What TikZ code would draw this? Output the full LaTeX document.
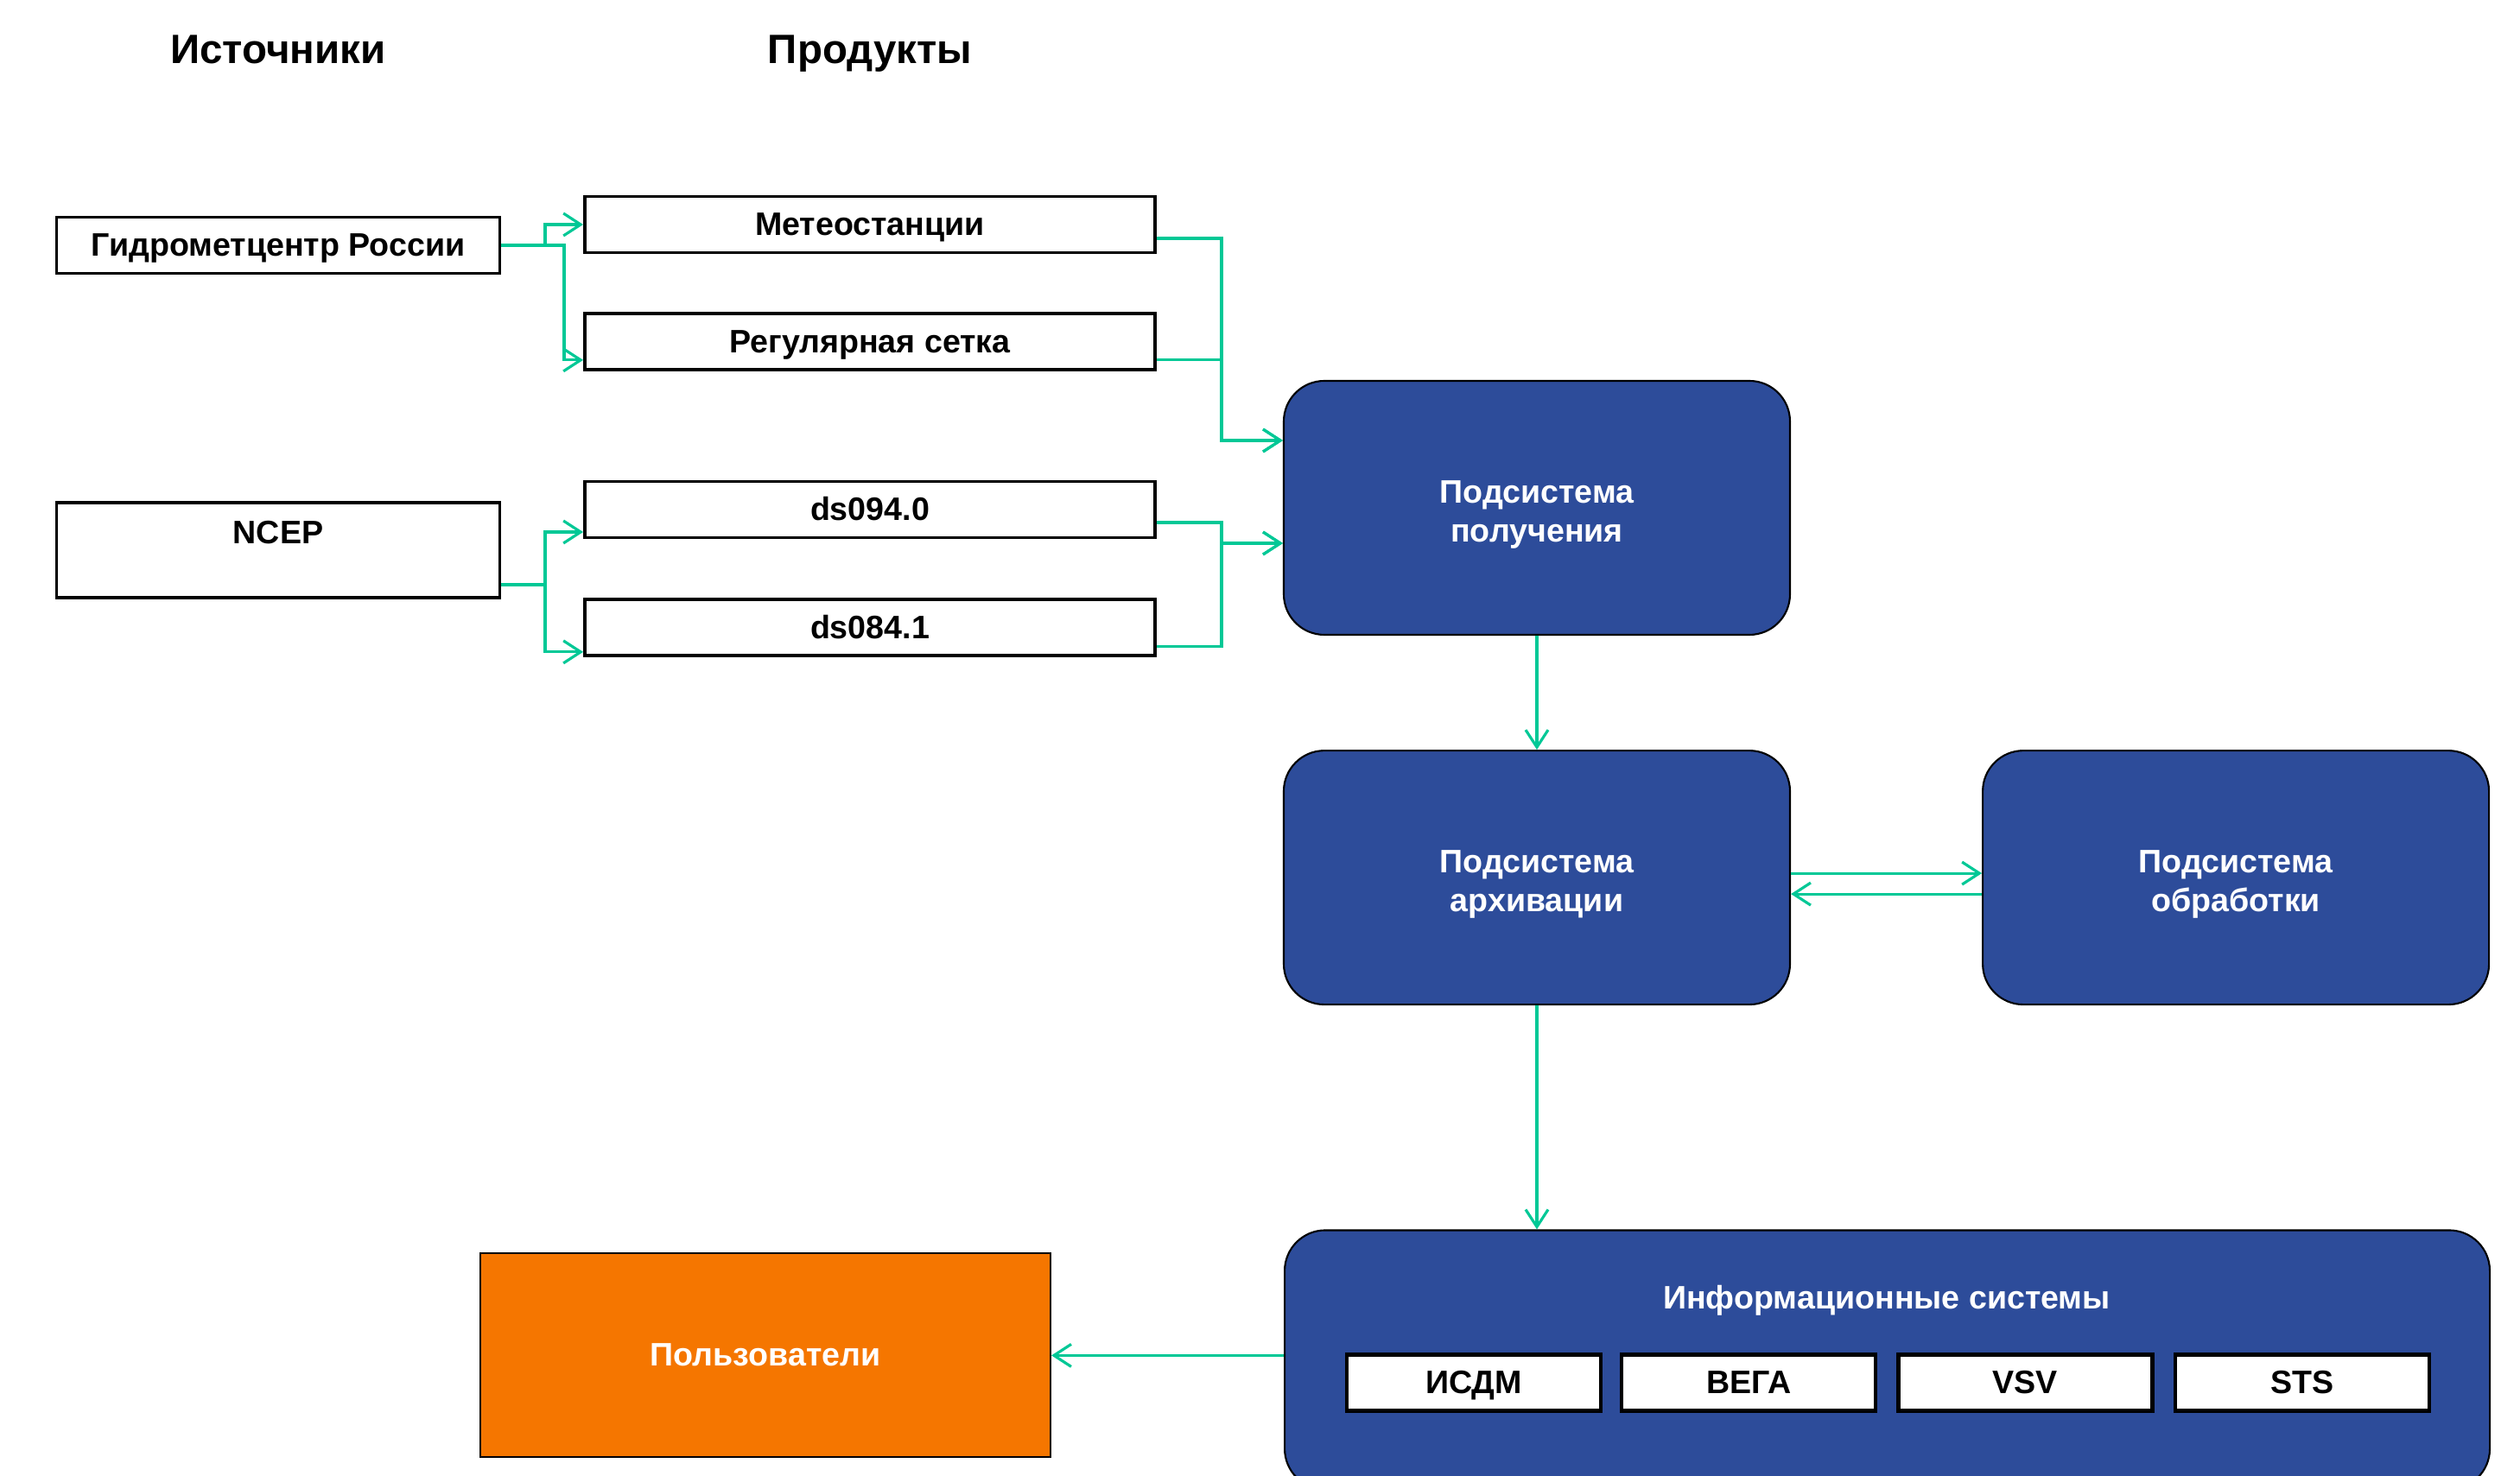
\documentclass[tikz,border=0pt]{standalone}
\usepackage{fontspec}
\setmainfont{Liberation Sans}
\usepackage{xcolor}
\usetikzlibrary{positioning, arrows.meta}

\definecolor{flowgreen}{HTML}{00C896}
\definecolor{subblue}{HTML}{2D4C9A}
\definecolor{userorange}{HTML}{F57600}

\begin{document}
\begin{tikzpicture}[
font=\fontsize{10.7}{12.8}\selectfont\bfseries,
line/.style={text height=0.9em, text depth=0.2em, inner ysep=2pt},
heading/.style={line, font=\fontsize{13.5}{16}\selectfont\bfseries},
srcbox/.style={line, rectangle, draw, line width=1.1pt, minimum width=5.13cm, minimum height=0.65cm},
prodbox/.style={line, rectangle, draw, line width=1.1pt, minimum width=6.60cm, minimum height=0.65cm},
subbox/.style={rectangle, draw, line width=0.6pt, rounded corners=0.47cm, fill=subblue, text=white, minimum width=5.86cm, minimum height=2.94cm, align=center, text height=24.7pt, text depth=2.25pt},
isbox/.style={line, rectangle, draw, line width=1.2pt, fill=white, minimum width=2.94cm, minimum height=0.65cm},
userbox/.style={line, rectangle, draw, line width=0.6pt, fill=userorange, text=white, minimum width=6.60cm, minimum height=2.36cm},
arrow/.style={-{Straight Barb[length=0.2cm, width=0.26cm]}, draw=flowgreen, line width=0.9pt}
]
\useasboundingbox (0,0) rectangle (29.17,17.08);

% headings
\node[heading] (head_src) at (3.22,16.47) {Источники};
\node[heading] (head_prod) at (10.07,16.47) {Продукты};

% sources
\node[srcbox] (src_gmc) at (3.22,14.24) {Гидрометцентр России};
\node[srcbox, minimum height=1.10cm, text height=8pt, text depth=12.5pt] (src_ncep) at (3.22,10.71) {NCEP};

% products
\node[prodbox] (prod_meteo) at (10.07,14.48) {Метеостанции};
\node[prodbox, below=0.67cm of prod_meteo] (prod_grid) {Регулярная сетка};
\node[prodbox] (prod_ds094) at (10.07,11.18) {ds094.0};
\node[prodbox, below=0.68cm of prod_ds094] (prod_ds084) {ds084.1};

% subsystems
\node[subbox] (sub_recv) at (17.79,11.20) {Подсистема\\получения};
\node[subbox, below=1.32cm of sub_recv] (sub_arch) {Подсистема\\архивации};
\node[subbox, right=2.21cm of sub_arch] (sub_proc) {Подсистема\\обработки};

% information systems
\node[subbox, minimum width=13.95cm, minimum height=3.0cm, anchor=north west] (info) at (14.86,2.846) {};
\node[line, text=white] (info_title) at (21.84,2.05) {Информационные системы};
\node[isbox] (is_isdm) at (17.06,1.07) {ИСДМ};
\node[isbox, right=0.20cm of is_isdm] (is_vega) {ВЕГА};
\node[isbox, right=0.22cm of is_vega] (is_vsv) {VSV};
\node[isbox, right=0.22cm of is_vsv] (is_sts) {STS};

\node[userbox] (users) at (8.86,1.386) {Пользователи};

% sources -> products
\draw[arrow] (src_gmc.east) -- ++(0.505,0) |- (prod_meteo.west);
\draw[arrow] (src_gmc.east) -- ++(0.725,0) |- ([yshift=-0.21cm]prod_grid.west);
\draw[arrow] ([yshift=-0.40cm]src_ncep.east) -- ++(0.505,0) |- ([yshift=-0.26cm]prod_ds094.west);
\draw[arrow] ([yshift=-0.40cm]src_ncep.east) -- ++(0.505,0) |- ([yshift=-0.28cm]prod_ds084.west);

% products -> receiving
\draw[arrow] ([yshift=-0.16cm]prod_meteo.east) -- ++(0.75,0) |- ([yshift=0.78cm]sub_recv.west);
\draw[arrow] ([yshift=-0.21cm]prod_grid.east) -- ++(0.75,0) |- ([yshift=0.78cm]sub_recv.west);
\draw[arrow] ([yshift=-0.15cm]prod_ds094.east) -- ++(0.75,0) |- ([yshift=-0.41cm]sub_recv.west);
\draw[arrow] ([yshift=-0.22cm]prod_ds084.east) -- ++(0.75,0) |- ([yshift=-0.41cm]sub_recv.west);

% subsystems
\draw[arrow] (sub_recv) -- (sub_arch);
\draw[arrow] ([yshift=0.05cm]sub_arch.east) -- ([yshift=0.05cm]sub_proc.west);
\draw[arrow] ([yshift=-0.19cm]sub_proc.west) -- ([yshift=-0.19cm]sub_arch.east);
\draw[arrow] (sub_arch.south) -- (sub_arch.south |- info.north);
\draw[arrow] (info.west |- users.east) -- (users.east);

\end{tikzpicture}
\end{document}
